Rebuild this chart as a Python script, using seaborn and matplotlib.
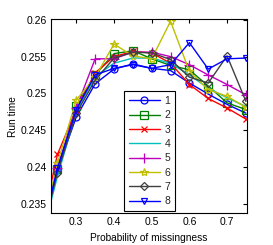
import matplotlib
matplotlib.use("Agg")
import matplotlib.pyplot as plt
import seaborn as sns
import pandas as pd
import numpy as np

sns.set_theme(style="white")
plt.rcParams['font.family'] = ['Liberation Sans', 'DejaVu Sans']

x = [0.20, 0.25, 0.30, 0.35, 0.40, 0.45, 0.50, 0.55, 0.60, 0.65, 0.70, 0.75]
s1 = [0.2290, 0.2396, 0.2468, 0.2513, 0.2533, 0.2540, 0.2534, 0.2531, 0.2514, 0.2499, 0.2485, 0.2473]
s2 = [0.2295, 0.2397, 0.2483, 0.2525, 0.2554, 0.2558, 0.2547, 0.2538, 0.2532, 0.2510, 0.2487, 0.2478]
s3 = [0.2300, 0.2417, 0.2478, 0.2528, 0.2550, 0.2557, 0.2555, 0.2541, 0.2512, 0.2493, 0.2480, 0.2465]
s4 = [0.2288, 0.2387, 0.2475, 0.2523, 0.2541, 0.2548, 0.2548, 0.2541, 0.2525, 0.2507, 0.2494, 0.2482]
s5 = [0.2292, 0.2398, 0.2480, 0.2547, 0.2547, 0.2556, 0.2556, 0.2550, 0.2539, 0.2525, 0.2512, 0.2498]
s6 = [0.2298, 0.2405, 0.2491, 0.2522, 0.2567, 0.2551, 0.2547, 0.2598, 0.2530, 0.2505, 0.2496, 0.2481]
s7 = [0.2290, 0.2392, 0.2473, 0.2518, 0.2548, 0.2556, 0.2555, 0.2546, 0.2522, 0.2514, 0.2551, 0.2489]
s8 = [0.2292, 0.2398, 0.2478, 0.2525, 0.2534, 0.2539, 0.2534, 0.2539, 0.2569, 0.2533, 0.2547, 0.2548]
labels = ['1', '2', '3', '4', '5', '6', '7', '8']
series = [s1, s2, s3, s4, s5, s6, s7, s8]

colors = ['#0000ff', '#008000', '#ff0000', '#00bfbf', '#bf00bf', '#bfbf00', '#404040', '#0000ff']
markers = ['o', 's', 'x', '', '+', '*', 'D', 'v']
msizes = [5, 6, 4.5, 0, 7, 6, 4, 5]

fig, ax = plt.subplots(figsize=(2.73, 2.45), dpi=100)
fig.subplots_adjust(left=0.187, right=0.905, top=0.922, bottom=0.13)

for lab, vals, c, m, ms in zip(labels, series, colors, markers, msizes):
    df = pd.DataFrame({'x': x, 'y': vals})
    sns.lineplot(data=df, x='x', y='y', ax=ax, color=c, marker=m if m else None,
                 markersize=ms, linewidth=1.0, label=lab)

for line, c in zip(ax.lines, colors):
    line.set_markerfacecolor('none')
    line.set_markeredgecolor(c)
    line.set_markeredgewidth(0.9)

ax.set_xlim(0.233, 0.753)
ax.set_ylim(0.2337, 0.2601)
ax.set_xticks([0.3, 0.4, 0.5, 0.6, 0.7])
ax.set_xticklabels(['0.3', '0.4', '0.5', '0.6', '0.7'])
ax.set_yticks([0.235, 0.24, 0.245, 0.25, 0.255, 0.26])
ax.set_yticklabels(['0.235', '0.24', '0.245', '0.25', '0.255', '0.26'])
ax.tick_params(direction='in', length=3, width=0.8, labelsize=7.5, colors='black',
               top=True, right=True, pad=3)
for sp in ax.spines.values():
    sp.set_color('black')
    sp.set_linewidth(0.8)
ax.set_xlabel('Probability of missingness', fontsize=7.3, color='black', labelpad=4)
ax.set_ylabel('Run time', fontsize=7.3, color='black', labelpad=2)

leg = ax.legend(loc='upper left', bbox_to_anchor=(0.372, 0.629), borderaxespad=0,
                fontsize=7.5, frameon=True, fancybox=False, edgecolor='black',
                framealpha=1, handlelength=3.0, labelspacing=0.42, borderpad=0.45,
                handletextpad=0.45)
leg.get_frame().set_linewidth(0.8)
for h in leg.get_lines():
    h.set_markerfacecolor('none')

fig.savefig('out.png', dpi=100)
